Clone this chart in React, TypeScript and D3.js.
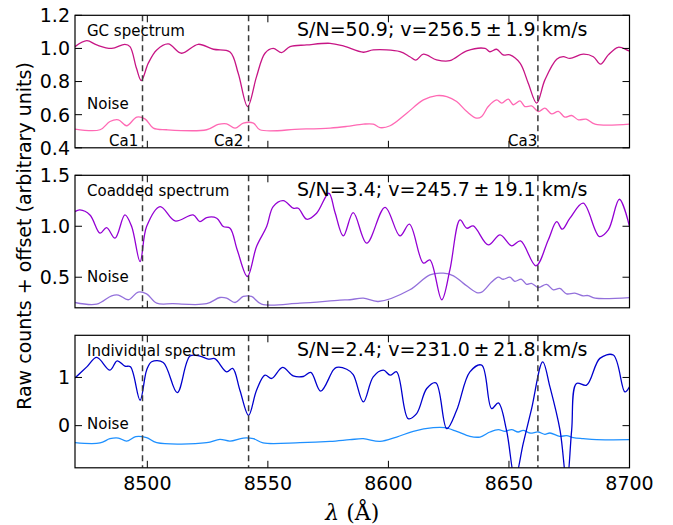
import * as d3 from "d3";

// wavelength (Å), flux pairs
const gcSpectrum: [number, number][] = [
  [8470, 1.011], [8474.9, 1.047], [8479, 1.021], [8485.2, 1.0], [8490.7, 1.025], [8492.8, 1.011],
  [8495.5, 0.88], [8497.5, 0.806], [8500.4, 0.911], [8503.9, 0.991], [8508.7, 1.027], [8514.2, 0.971],
  [8521.1, 1.025], [8527.4, 0.995], [8534.3, 0.979], [8537.7, 0.85], [8541.6, 0.649], [8545.3, 0.83],
  [8548.8, 0.971], [8552.2, 1.0], [8555.7, 0.975], [8559.2, 1.011], [8566.1, 1.021], [8575.8, 1.031],
  [8581.3, 1.015], [8589.6, 0.977], [8593.7, 0.991], [8604.8, 0.981], [8608.9, 0.95], [8611.4, 0.929],
  [8614.5, 0.965], [8620, 0.931], [8625.5, 0.926], [8632.5, 0.985], [8640.1, 1.0], [8642.1, 0.98],
  [8644.9, 0.995], [8647.6, 0.961], [8650.4, 0.961], [8654.6, 0.911], [8658, 0.79], [8661.5, 0.67],
  [8664.9, 0.81], [8669.8, 0.935], [8672.5, 0.95], [8675.3, 0.94], [8680.8, 0.965], [8685, 0.95],
  [8688, 0.905], [8691.2, 0.961], [8695.3, 1.007], [8699.5, 0.987], [8700, 0.985],
];
const gcNoise: [number, number][] = [
  [8470, 0.513], [8480.4, 0.509], [8484.5, 0.559], [8488, 0.569], [8491.4, 0.533], [8495.6, 0.585],
  [8499, 0.575], [8502.5, 0.519], [8508, 0.509], [8524.6, 0.509], [8529.4, 0.541], [8532.9, 0.545],
  [8536.4, 0.519], [8539.8, 0.549], [8544, 0.549], [8546.7, 0.509], [8563.3, 0.513], [8575.8, 0.519],
  [8582.7, 0.529], [8589.6, 0.543], [8593.7, 0.543], [8596.5, 0.522], [8600.7, 0.533], [8607.6, 0.609],
  [8614.5, 0.689], [8620, 0.715], [8624.2, 0.709], [8628.3, 0.679], [8632.5, 0.619], [8636.6, 0.579],
  [8638.7, 0.589], [8641.4, 0.649], [8644.9, 0.689], [8647, 0.67], [8649.7, 0.694], [8651.8, 0.66],
  [8654.6, 0.683], [8656.6, 0.649], [8659.4, 0.653], [8662.2, 0.619], [8664.9, 0.639], [8667.7, 0.605],
  [8670.5, 0.62], [8673.2, 0.585], [8676, 0.595], [8678.8, 0.569], [8682, 0.573], [8685.7, 0.543],
  [8700, 0.543],
];
const coSpectrum: [number, number][] = [
  [8470, 1.144], [8472, 1.16], [8476.2, 1.111], [8480.4, 0.932], [8483.1, 0.987], [8486.6, 0.883],
  [8490.7, 1.111], [8493.5, 0.997], [8497, 0.654], [8499.7, 0.997], [8505.3, 1.193], [8511.5, 1.052],
  [8519, 1.111], [8521.8, 1.045], [8524.6, 1.085], [8528.8, 1.079], [8531.5, 0.997], [8534.3, 0.981],
  [8537.3, 0.768], [8541.5, 0.507], [8545.3, 0.801], [8549.5, 0.997], [8552.2, 1.193], [8556.4, 1.251],
  [8560.5, 1.177], [8562.6, 1.177], [8566.1, 1.069], [8570.2, 1.128], [8575.3, 1.324], [8577.8, 1.14],
  [8581.3, 0.905], [8585.4, 1.134], [8591, 0.834], [8598.6, 1.186], [8604.8, 0.905], [8608.7, 1.02],
  [8614.5, 0.638], [8617.2, 0.67], [8622.1, 0.279], [8625.5, 0.572], [8629.7, 1.062], [8632.5, 0.981],
  [8635.2, 1.003], [8641.4, 0.817], [8646.3, 0.915], [8651.1, 0.808], [8654.8, 0.857], [8661.2, 0.612],
  [8666.3, 0.866], [8669.8, 1.045], [8672.1, 0.971], [8675.3, 1.079], [8680.8, 1.226], [8687.5, 0.899],
  [8691.2, 0.964], [8695.8, 1.265], [8700, 0.997],
];
const coNoise: [number, number][] = [
  [8470, 0.252], [8479, 0.236], [8485.2, 0.318], [8488, 0.325], [8492.1, 0.279], [8496.2, 0.354],
  [8499.7, 0.337], [8503.9, 0.246], [8510.6, 0.24], [8524.6, 0.24], [8530.1, 0.301], [8532.9, 0.295],
  [8536.4, 0.252], [8539.8, 0.311], [8543.2, 0.311], [8547.4, 0.236], [8563.3, 0.246], [8579.9, 0.275],
  [8584, 0.279], [8589.6, 0.295], [8595.8, 0.262], [8608.9, 0.377], [8617.2, 0.524], [8622.8, 0.54],
  [8627, 0.514], [8631, 0.442], [8636.6, 0.35], [8638.7, 0.353], [8642.8, 0.452], [8645.6, 0.501],
  [8647.6, 0.48], [8650.4, 0.5], [8652.4, 0.46], [8655.2, 0.48], [8657.3, 0.43], [8659.3, 0.44],
  [8662.2, 0.399], [8665.6, 0.43], [8668.4, 0.377], [8671.1, 0.39], [8673.9, 0.337], [8677.3, 0.344],
  [8680.8, 0.318], [8682.8, 0.32], [8685.7, 0.295], [8700, 0.3],
];
const indSpectrum: [number, number][] = [
  [8470, 0.99], [8474.9, 1.22], [8479, 1.417], [8484.5, 1.152], [8487.5, 1.346], [8490.7, 1.235],
  [8493, 1.22], [8497, 0.527], [8499.7, 1.152], [8501.8, 1.325], [8506.6, 1.312], [8512.4, 0.687],
  [8517.7, 1.444], [8521.8, 1.444], [8525.3, 1.381], [8528, 1.39], [8532.9, 1.117], [8535.4, 1.187],
  [8538.4, 0.735], [8542, 0.215], [8545.3, 0.735], [8548.8, 1.048], [8551.6, 0.979], [8556.1, 1.208],
  [8560.5, 1.033], [8564.7, 1.02], [8567.8, 1.104], [8571.9, 0.715], [8577.1, 1.152], [8578.5, 1.208],
  [8582.7, 1.17], [8585.4, 1.06], [8589.6, 0.492], [8593.7, 1.013], [8597.9, 1.152], [8600.7, 1.048],
  [8603.4, 1.117], [8608.2, 0.146], [8611.7, 0.25], [8615.9, 0.771], [8619.7, 0.888], [8624.2, -0.063],
  [8628.3, 0.319], [8633.8, 1.117], [8638.7, 1.256], [8642.8, 0.354], [8645.6, 0.471], [8649, -0.098],
  [8652.5, -1.1], [8655.9, -0.375], [8659.4, 0.354], [8664, 1.325], [8667, 0.804], [8671.2, -0.098],
  [8674, -1.2], [8676, -0.098], [8678, 0.875], [8682.2, 0.84], [8687.7, 1.396], [8693.3, 1.465],
  [8698.1, 0.7], [8700, 0.804],
];
const indNoise: [number, number][] = [
  [8470, -0.354], [8480.4, -0.36], [8484.5, -0.271], [8488, -0.257], [8491.4, -0.32], [8495.2, -0.229],
  [8499.7, -0.25], [8503.9, -0.354], [8524.6, -0.354], [8530.1, -0.285], [8534.3, -0.32], [8539.8, -0.257],
  [8544, -0.271], [8548, -0.36], [8563.3, -0.354], [8575.8, -0.327], [8584, -0.292], [8589.6, -0.271],
  [8596.5, -0.327], [8603.4, -0.236], [8610.3, -0.118], [8618.6, -0.042], [8623.4, -0.042], [8628.3, -0.118],
  [8633.8, -0.222], [8638, -0.236], [8642.1, -0.132], [8645.6, -0.083], [8648.3, -0.118], [8651.1, -0.083],
  [8653.8, -0.132], [8655.9, -0.097], [8658.7, -0.153], [8662.2, -0.132], [8664.9, -0.18], [8667, -0.153],
  [8671.1, -0.222], [8673.9, -0.208], [8676.7, -0.25], [8680.8, -0.271], [8686.3, -0.292], [8700, -0.292],
];

const caLines = [8498, 8542, 8662];
const caNames = ["Ca1", "Ca2", "Ca3"];
const caLabelStart = [8484.1, 8527.7, 8649.6];
const xTicks = [8500, 8550, 8600, 8650, 8700];

const titles = ["GC spectrum", "Coadded spectrum", "Individual spectrum"];
const snTexts = [
  "S/N=50.9; v=256.5\u2009\u00b1\u20091.9 km/s",
  "S/N=3.4; v=245.7\u2009\u00b1\u200919.1 km/s",
  "S/N=2.4; v=231.0\u2009\u00b1\u200921.8 km/s",
];
const yDomains: [number, number][] = [[0.4, 1.2], [0.2, 1.5], [-0.875, 1.875]];
const yTicks = [[0.4, 0.6, 0.8, 1.0, 1.2], [0.5, 1.0, 1.5], [0, 1]];
const yFormats = [".1f", ".1f", "d"];
const noiseLabelY = [0.637, 0.452, -0.06];

const width = 673;
const height = 525;
const left = 75;
const right = 629.5;
const panelTops = [15.3, 175.3, 335.3];
const panelHeight = 132.5;
const font = "DejaVu Sans, sans-serif";

const panels = [
  { spec: gcSpectrum, noise: gcNoise, specColor: "#c71585", noiseColor: "#ff69b4" },
  { spec: coSpectrum, noise: coNoise, specColor: "#9400d3", noiseColor: "#9370db" },
  { spec: indSpectrum, noise: indNoise, specColor: "#0000cd", noiseColor: "#1e90ff" },
];

export default function App() {
  const x = d3.scaleLinear([8470, 8700], [left, right]);
  const tick = 7;

  return (
    <svg width={width} height={height} style={{ position: "absolute", left: 0, top: 0 }}>
      <rect width={width} height={height} fill="white" />
      <defs>
        {panelTops.map((t, i) => (
          <clipPath id={`clip${i}`} key={i}>
            <rect x={left} y={t} width={right - left} height={panelHeight} />
          </clipPath>
        ))}
      </defs>
      {panels.map((p, i) => {
        const top = panelTops[i];
        const bottom = top + panelHeight;
        const y = d3.scaleLinear(yDomains[i], [bottom, top]);
        const line = d3
          .line<[number, number]>()
          .x((d) => x(d[0]))
          .y((d) => y(d[1]))
          .curve(d3.curveCatmullRom.alpha(0.5));
        const fmt = d3.format(yFormats[i]);
        return (
          <g key={i}>
            <g clipPath={`url(#clip${i})`}>
              <path d={line(p.noise) ?? ""} fill="none" stroke={p.noiseColor} strokeWidth={1.3} />
              <path d={line(p.spec) ?? ""} fill="none" stroke={p.specColor} strokeWidth={1.3} />
              {caLines.map((c) => (
                <line key={c} x1={x(c)} x2={x(c)} y1={top} y2={bottom} stroke="#3a3a3a"
                  strokeWidth={1.5} strokeDasharray="6,4" />
              ))}
            </g>
            <rect x={left} y={top} width={right - left} height={panelHeight} fill="none"
              stroke="black" strokeWidth={1.2} />
            {xTicks.map((t) => (
              <g key={t} stroke="black" strokeWidth={1}>
                <line x1={x(t)} x2={x(t)} y1={bottom} y2={bottom - tick} />
                <line x1={x(t)} x2={x(t)} y1={top} y2={top + tick} />
              </g>
            ))}
            {yTicks[i].map((t) => (
              <g key={t}>
                <line x1={left} x2={left + tick} y1={y(t)} y2={y(t)} stroke="black" />
                <line x1={right} x2={right - tick} y1={y(t)} y2={y(t)} stroke="black" />
                <text x={left - 5} y={y(t)} dy="0.36em" textAnchor="end" fontFamily={font} fontSize={19}>
                  {fmt(t)}
                </text>
              </g>
            ))}
            <text x={87} y={top + 21} fontFamily={font} fontSize={15}>{titles[i]}</text>
            <text x={87} y={y(noiseLabelY[i])} fontFamily={font} fontSize={15}>Noise</text>
            <text x={297} y={top + 21} fontFamily={font} fontSize={19}>{snTexts[i]}</text>
            {i === 0 &&
              caNames.map((n, k) => (
                <text key={n} x={x(caLabelStart[k])} y={bottom - 2} fontFamily={font} fontSize={15}>{n}</text>
              ))}
            {i === 2 &&
              xTicks.map((t) => (
                <text key={t} x={x(t)} y={bottom + 22} textAnchor="middle" fontFamily={font} fontSize={19}>
                  {t}
                </text>
              ))}
          </g>
        );
      })}
      <text x={(left + right) / 2} y={520} textAnchor="middle" fontFamily="DejaVu Serif, serif" fontSize={22}>
        <tspan fontStyle="italic">λ</tspan> (Å)
      </text>
      <text transform={`translate(31,236) rotate(-90)`} textAnchor="middle" fontFamily={font} fontSize={19}>
        Raw counts + offset (arbitrary units)
      </text>
    </svg>
  );
}
